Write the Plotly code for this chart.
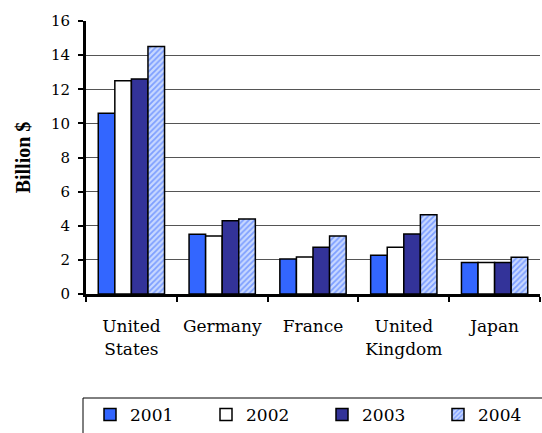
import plotly.graph_objects as go

categories = ["United<br>States", "Germany", "France", "United<br>Kingdom", "Japan"]
years = ["2001", "2002", "2003", "2004"]
v2001 = [10.6, 3.5, 2.05, 2.27, 1.84]
v2002 = [12.5, 3.4, 2.17, 2.74, 1.84]
v2003 = [12.6, 4.3, 2.74, 3.52, 1.84]
v2004 = [14.5, 4.4, 3.4, 4.64, 2.15]
yticks = [0, 2, 4, 6, 8, 10, 12, 14, 16]

SERIF = "DejaVu Serif"
W, H = 542, 433
ml, mr, mt, mb = 86, 2, 21, 139
pw, ph = W - ml - mr, H - mt - mb


def px_x(p):
    return (p - ml) / pw


def px_y(p):
    return (H - mb - p) / ph


series = [v2001, v2002, v2003, v2004]
styles = [
    dict(color="#3366FF"),
    dict(color="#FFFFFF"),
    dict(color="#333399"),
    dict(color="#FFFFFF", pattern=dict(shape="/", fgcolor="#3366FF", bgcolor="#C8D8FF", size=4, solidity=0.45)),
]
legend_ids = ["legend", "legend2", "legend3", "legend4"]
legend_x = [90, 206, 322, 438]

fig = go.Figure()
for name, vals, st, lid in zip(years, series, styles, legend_ids):
    fig.add_trace(go.Bar(
        x=categories, y=vals, name=name, legend=lid,
        marker=dict(line=dict(color="black", width=1.5), **st),
    ))

fig.add_shape(type="rect", xref="paper", yref="paper",
              x0=px_x(83), x1=px_x(548), y0=px_y(398), y1=px_y(440),
              line=dict(color="black", width=1), fillcolor="rgba(0,0,0,0)")

legends = {}
for lid, lx in zip(legend_ids, legend_x):
    legends[lid] = dict(orientation="h", x=px_x(lx), xanchor="left", y=px_y(415), yanchor="middle",
                        bgcolor="rgba(0,0,0,0)", borderwidth=0,
                        font=dict(family=SERIF, size=17, color="black"), itemclick=False)

fig.update_layout(
    width=W, height=H,
    margin=dict(l=ml, r=mr, t=mt, b=mb, autoexpand=False),
    paper_bgcolor="white", plot_bgcolor="white",
    barmode="group", bargap=0.27, bargroupgap=0,
    font=dict(family=SERIF, size=15, color="black"),
    showlegend=True,
    yaxis=dict(range=[0, 16], tickvals=yticks, showgrid=True, gridcolor="#555555", gridwidth=1,
               showline=True, linecolor="black", linewidth=3, ticks="outside", ticklen=5,
               tickwidth=2, tickcolor="black", zeroline=False, automargin=False,
               ticklabelstandoff=5,
               tickfont=dict(family=SERIF, size=15),
               title=dict(text="<b>Billion $</b>", font=dict(family="Liberation Serif", size=20))),
    xaxis=dict(showline=True, linecolor="black", linewidth=3, ticks="outside",
               tickson="boundaries", ticklen=5, tickwidth=2, tickcolor="black",
               automargin=False, ticklabelstandoff=15, tickangle=0,
               tickfont=dict(family=SERIF, size=17)),
    **legends,
)

fig.write_html(
    "out.html",
    config={"displayModeBar": False},
    post_script="document.body.style.margin='0';document.body.style.overflow='hidden';",
)
